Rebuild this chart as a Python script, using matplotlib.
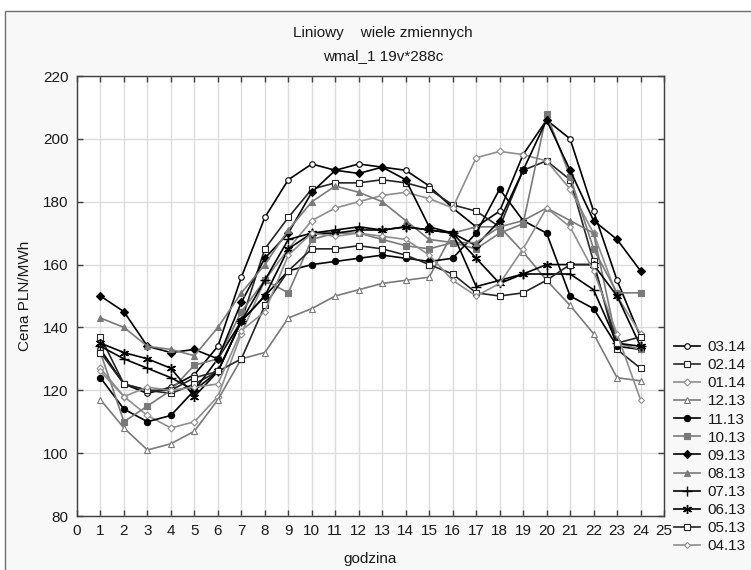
import matplotlib
matplotlib.use("Agg")
from matplotlib import pyplot as plt
from matplotlib.patches import Rectangle

plt.rcParams['font.family'] = ['Liberation Sans', 'DejaVu Sans']

godzina = list(range(1, 25))

s0314 = [133, 122, 119, 121, 125, 134, 156, 175, 187, 192, 190, 192, 191, 190, 185, 178, 172, 177, 195, 206, 200, 177, 155, 137]
s0214 = [137, 122, 120, 119, 122, 126, 142, 165, 175, 184, 186, 186, 187, 186, 184, 179, 177, 172, 190, 193, 187, 161, 133, 127]
s0114 = [127, 118, 112, 108, 110, 118, 138, 155, 165, 174, 178, 180, 182, 183, 181, 178, 194, 196, 195, 193, 184, 170, 150, 138]
s1213 = [117, 108, 101, 103, 107, 117, 130, 132, 143, 146, 150, 152, 154, 155, 156, 170, 172, 172, 164, 155, 147, 138, 124, 123]
s1113 = [124, 114, 110, 112, 120, 130, 142, 150, 158, 160, 161, 162, 163, 162, 161, 162, 170, 184, 174, 170, 150, 146, 134, 133]
s1013 = [132, 110, 115, 120, 128, 130, 145, 155, 151, 168, 170, 170, 168, 166, 165, 167, 165, 170, 173, 208, 188, 165, 151, 151]
s0913 = [150, 145, 134, 132, 133, 130, 148, 162, 170, 183, 190, 189, 191, 187, 172, 170, 166, 174, 190, 206, 190, 174, 168, 158]
s0813 = [143, 140, 134, 133, 131, 140, 151, 160, 171, 180, 185, 183, 180, 174, 168, 167, 167, 172, 174, 178, 174, 170, 135, 133]
s0713 = [134, 130, 127, 124, 120, 126, 142, 155, 168, 170, 171, 172, 171, 172, 171, 170, 153, 155, 157, 157, 157, 152, 135, 134]
s0613 = [135, 132, 130, 127, 118, 126, 142, 150, 165, 170, 170, 171, 171, 172, 171, 170, 162, 154, 157, 160, 160, 160, 150, 134]
s0513 = [132, 122, 120, 120, 124, 126, 130, 147, 158, 165, 165, 166, 165, 163, 160, 157, 151, 150, 151, 155, 160, 160, 135, 137]
s0413 = [126, 118, 121, 120, 121, 122, 139, 145, 163, 170, 169, 170, 169, 168, 163, 155, 150, 154, 165, 178, 172, 158, 138, 117]

labels = ['03.14', '02.14', '01.14', '12.13', '11.13', '10.13',
          '09.13', '08.13', '07.13', '06.13', '05.13', '04.13']
series = [s0314, s0214, s0114, s1213, s1113, s1013,
          s0913, s0813, s0713, s0613, s0513, s0413]

# (line colour, marker, marker face, marker size)
black = '#000000'
dark = '#262626'
gray = '#7a7a7a'
lgray = '#8e8e8e'
styles = [
    (black, 'o', 'white', 4),
    (dark, 's', 'white', 5),
    (lgray, 'D', 'white', 3.5),
    (gray, '^', 'white', 4.5),
    (black, 'o', black, 4.5),
    (gray, 's', gray, 5),
    (black, 'D', black, 4),
    (gray, '^', gray, 5),
    (black, '+', black, 6.5),
    (black, (6, 2, 0), black, 6.5),
    (dark, 's', 'white', 5),
    (lgray, 'D', 'white', 3),
]

fig = plt.figure(figsize=(7.51, 5.70), dpi=100, facecolor='white')
fig.patches.append(Rectangle((5 / 751, -0.01), 1, 1 - 11 / 570 + 0.01,
                             transform=fig.transFigure, facecolor='#f8f8f8',
                             edgecolor='#707070', linewidth=1, zorder=-10))

ax = fig.add_axes([77 / 751, 1 - 516 / 570, (664 - 77) / 751, (516 - 76) / 570])
ax.set_facecolor('white')

for vals, lab, (c, m, fc, ms) in zip(series, labels, styles):
    mew = 1.0 if m == '+' or isinstance(m, tuple) else 0.8
    ax.plot(godzina, vals, color=c, lw=1.2, marker=m, markersize=ms,
            markerfacecolor=fc, markeredgecolor=c, markeredgewidth=mew, label=lab)

ax.set_xlim(0, 25)
ax.set_ylim(80, 220)
ax.set_xticks(range(0, 26))
ax.set_yticks(range(80, 221, 20))
ax.grid(True, color='#dcdcdc', lw=1)
ax.set_axisbelow(True)
for sp in ax.spines.values():
    sp.set_color('#404040')
    sp.set_linewidth(1)
ax.tick_params(direction='in', length=4, width=1, color='#404040',
               top=True, right=True, labelsize=11, pad=6, labelcolor='#1a1a1a')

ax.set_xlabel('godzina', fontsize=11, labelpad=10, color='#1a1a1a')
ax.set_ylabel('Cena PLN/MWh', fontsize=11, labelpad=8, color='#1a1a1a')

fig.text(383 / 751, 1 - 33 / 570, 'Liniowy    wiele zmiennych', ha='center', va='center',
         fontsize=11, color='#1a1a1a')
fig.text(383 / 751, 1 - 56 / 570, 'wmal_1 19v*288c', ha='center', va='center',
         fontsize=11, color='#1a1a1a')

handles, labs = ax.get_legend_handles_labels()
fig.legend(handles, labs, loc='upper left', bbox_to_anchor=(674 / 751, 1 - 340 / 570),
           frameon=False, fontsize=11, handlelength=1.7, handletextpad=0.5,
           labelspacing=0.27, borderpad=0, borderaxespad=0, labelcolor='#1a1a1a')

fig.savefig('out.png', dpi=100, facecolor=fig.get_facecolor())
